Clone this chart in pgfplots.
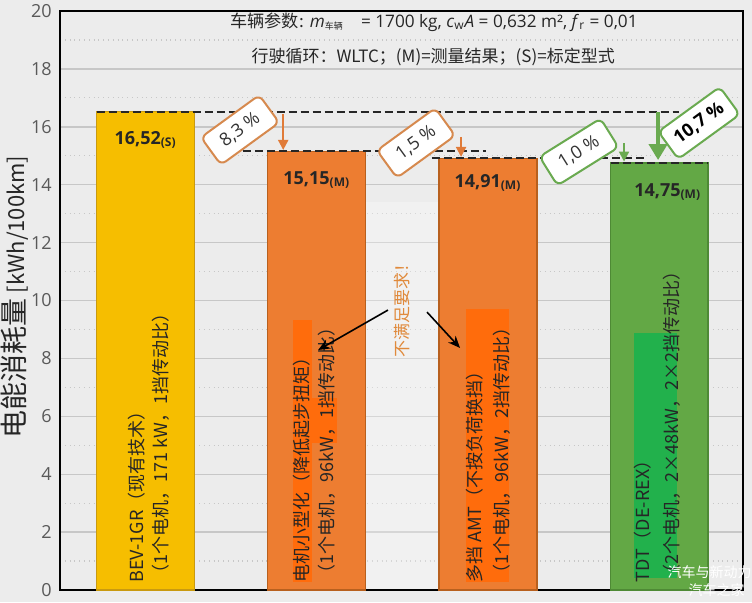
\documentclass[border=0pt]{standalone}
\usepackage{pgfplots}
\pgfplotsset{compat=1.18}
\usepackage{fontspec}
\setmainfont{Open Sans}
\newfontfamily\cjk{Noto Sans CJK SC}
\usetikzlibrary{arrows.meta}
\definecolor{bgc}{HTML}{ECECEC}
\definecolor{yel}{HTML}{F6BE00}
\definecolor{yelD}{HTML}{C99A10}
\definecolor{ora}{HTML}{ED7D31}
\definecolor{oraD}{HTML}{B8601E}
\definecolor{oraHi}{HTML}{FF6C0C}
\definecolor{grn}{HTML}{63A845}
\definecolor{grnD}{HTML}{4E8A35}
\definecolor{grnHi}{HTML}{22B14C}
\definecolor{oraB}{HTML}{D6894E}
\definecolor{oraA}{HTML}{E07B39}
\definecolor{grnB}{HTML}{6AAA50}
\definecolor{oraT}{HTML}{E08A3C}
\definecolor{txt}{HTML}{262626}
\begin{document}
\begin{tikzpicture}[x=0.5pt,y=0.5pt]
\fill[bgc] (0,0) rectangle (752,602);
\begin{axis}[
  at={(30pt,6pt)}, anchor=south west,
  scale only axis, width=341.5pt, height=289.5pt,
  xmin=-0.5, xmax=3.49, ymin=0, ymax=20,
  xtick=\empty,
  ytick={0,2,...,20}, minor ytick={1,3,...,19},
  ymajorgrids, yminorgrids,
  major grid style={draw=black!22, line width=0.7pt},
  minor grid style={draw=black!22, dotted, line width=0.6pt},
  axis line style={black, line width=1pt},
  major tick style={draw=none}, minor tick style={draw=none},
  yticklabel style={font=\fontsize{9}{9}\selectfont, text=black!65, anchor=east, inner sep=0pt, xshift=-4pt},
  /pgf/number format/assume math mode=true,
  axis background/.style={fill=bgc},
  clip=false,
]
% bars
\addplot[ybar, bar width=0.572, bar shift=0pt, fill=yel, draw=yelD, line width=0.6pt] coordinates {(0,16.52)};
\addplot[ybar, bar width=0.572, bar shift=0pt, fill=ora, draw=oraD, line width=0.6pt] coordinates {(1,15.15)};
\addplot[ybar, bar width=0.572, bar shift=0pt, fill=ora, draw=oraD, line width=0.6pt] coordinates {(2,14.91)};
\addplot[ybar, bar width=0.572, bar shift=0pt, fill=grn, draw=grnD, line width=0.6pt] coordinates {(3,14.75)};
% highlight rectangles behind bar text
\fill[oraHi] (axis cs:0.861,0.28) rectangle (axis cs:0.972,9.32);
\fill[oraHi] (axis cs:0.972,5.08) rectangle (axis cs:1.118,6.63);
\fill[oraHi] (axis cs:1.872,0.28) rectangle (axis cs:2.123,9.71);
\fill[grnHi] (axis cs:2.854,0.41) rectangle (axis cs:3.104,8.87);
% light band between bars 2 and 3
\fill[white, opacity=0.28] (axis cs:1.29,0.05) rectangle (axis cs:1.71,13.4);
% dashed reference lines
\addplot[black!85, line width=1pt, dash pattern=on 4pt off 2pt] coordinates {(-0.286,16.52) (3.116,16.52)};
\addplot[black!85, line width=1pt, dash pattern=on 4pt off 2pt] coordinates {(0.569,15.15) (1.988,15.15)};
\addplot[black!85, line width=1pt, dash pattern=on 4pt off 2pt] coordinates {(1.672,14.91) (2.928,14.91)};
\addplot[black!85, line width=1pt, dash pattern=on 4pt off 2pt] coordinates {(2.72,14.75) (3.286,14.75)};
% value labels
\node[text=txt, font=\bfseries\fontsize{9}{9}\selectfont] at (axis cs:0,15.54) {16,52\textsubscript{(S)}};
\node[text=txt, font=\bfseries\fontsize{9}{9}\selectfont] at (axis cs:1,14.16) {15,15\textsubscript{(M)}};
\node[text=txt, font=\bfseries\fontsize{9}{9}\selectfont] at (axis cs:2,14.06) {14,91\textsubscript{(M)}};
\node[text=txt, font=\bfseries\fontsize{9}{9}\selectfont] at (axis cs:3.05,13.75) {14,75\textsubscript{(M)}};
% arrows
\draw[oraA, line width=1pt, -{Triangle[width=5pt,length=5pt]}] (axis cs:0.804,16.45) -- (axis cs:0.804,15.2);
\draw[oraA, line width=1pt, -{Triangle[width=5pt,length=5pt]}] (axis cs:1.843,15.65) -- (axis cs:1.843,14.96);
\draw[grnB, line width=1pt, -{Triangle[width=5pt,length=5pt]}] (axis cs:2.795,15.44) -- (axis cs:2.795,14.80);
\draw[grnB, line width=2pt, -{Triangle[width=9pt,length=8pt]}] (axis cs:2.994,16.5) -- (axis cs:2.994,14.85);
% percent boxes
\node[draw=oraB, line width=1pt, rounded corners=3pt, fill=white, rotate=36, minimum width=36pt, minimum height=17pt, text=black!80, font=\fontsize{9}{9}\selectfont] at (axis cs:0.552,15.89) {8,3 \%};
\node[draw=oraB, line width=1pt, rounded corners=3pt, fill=white, rotate=36, minimum width=36pt, minimum height=17pt, text=black!80, font=\fontsize{9}{9}\selectfont] at (axis cs:1.580,15.44) {1,5 \%};
\node[draw=grnB, line width=1pt, rounded corners=3pt, fill=white, rotate=32, minimum width=36pt, minimum height=17pt, text=black!80, font=\fontsize{9}{9}\selectfont] at (axis cs:2.532,15.13) {1,0 \%};
\node[draw=grnB, line width=1pt, rounded corners=3pt, fill=white, rotate=36, minimum width=38pt, minimum height=17pt, text=black, font=\bfseries\fontsize{9}{9}\selectfont] at (axis cs:3.233,16.13) {10,7 \%};
% header
\node[text=txt, font=\fontsize{8.6}{8.6}\selectfont] at (axis cs:1.685,19.62) {{\cjk 车辆参数:} \textit{m}\textsubscript{\cjk\fontsize{4.5}{5}\selectfont 车辆}\quad = 1700 kg, \textit{c}\textsubscript{w}\textit{A} = 0,632 m², \textit{f}\textsubscript{r} = 0,01};
\node[text=txt, font=\cjk\fontsize{8.5}{8.5}\selectfont] at (axis cs:1.68,18.41) {行驶循环：WLTC；(M)=测量结果；(S)=标定型式};
% bar texts
\node[rotate=90, anchor=west, inner sep=0pt, text=txt, font=\cjk\fontsize{9}{9}\selectfont] at (axis cs:-0.05,0.24) {BEV-1GR（现有技术）};
\node[rotate=90, anchor=west, inner sep=0pt, text=txt, font=\cjk\fontsize{9}{9}\selectfont] at (axis cs:0.091,0.24) {（1个电机，171 kW，1挡传动比）};
\node[rotate=90, anchor=west, inner sep=0pt, text=txt, font=\cjk\fontsize{9}{9}\selectfont] at (axis cs:0.914,0.24) {电机小型化（降低起步扭矩）};
\node[rotate=90, anchor=west, inner sep=0pt, text=txt, font=\cjk\fontsize{9}{9}\selectfont] at (axis cs:1.060,0.24) {（1个电机，96kW，1挡传动比）};
\node[rotate=90, anchor=west, inner sep=0pt, text=txt, font=\cjk\fontsize{9}{9}\selectfont] at (axis cs:1.925,0.24) {多挡 AMT（不按负荷换挡）};
\node[rotate=90, anchor=west, inner sep=0pt, text=txt, font=\cjk\fontsize{9}{9}\selectfont] at (axis cs:2.082,0.24) {（1个电机，96kW，2挡传动比）};
\node[rotate=90, anchor=west, inner sep=0pt, text=txt, font=\cjk\fontsize{9}{9}\selectfont] at (axis cs:2.906,0.24) {TDT（DE-REX）};
\node[rotate=90, anchor=west, inner sep=0pt, text=txt, font=\cjk\fontsize{9}{9}\selectfont] at (axis cs:3.075,0.24) {（2个电机，2×48kW，2×2挡传动比）};
% requirement note
\node[rotate=90, text=oraT, font=\cjk\fontsize{8.5}{8.5}\selectfont] at (axis cs:1.50,9.78) {不满足要求！};
\draw[black, line width=0.8pt, -{Stealth[length=6pt,width=5pt]}] (axis cs:1.416,9.67) -- (axis cs:1.008,8.29);
\draw[black, line width=0.8pt, -{Stealth[length=6pt,width=5pt]}] (axis cs:1.644,9.60) -- (axis cs:1.837,8.36);
\end{axis}
% y label
\node[rotate=90, text=txt, inner sep=0pt] at (15,305) {{\cjk\fontsize{14}{14}\selectfont 电能消耗量} {\cjk\fontsize{11}{11}\selectfont [kWh/100km]}};
% watermark
\node[anchor=east, inner sep=0pt, text=white, font=\cjk\fontsize{7}{7}\selectfont] at (752,30) {汽车与新动力};
\node[anchor=east, inner sep=0pt, text=white, font=\cjk\fontsize{7}{7}\selectfont] at (745,12) {汽车之家};
\end{tikzpicture}
\end{document}
